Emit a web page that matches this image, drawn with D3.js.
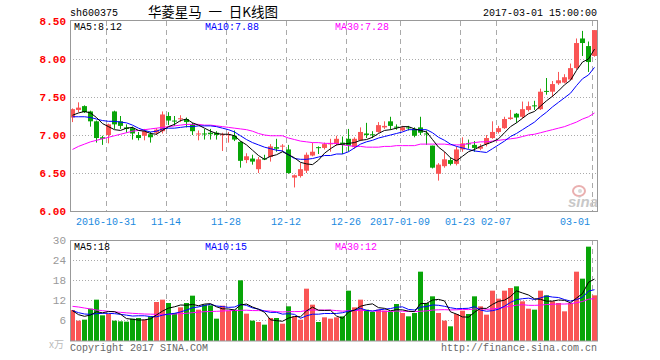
<!DOCTYPE html>
<html>
<head>
<meta charset="utf-8">
<script src="https://cdn.jsdelivr.net/npm/d3@7"></script>
<style>
  body { margin: 0; background: #fff; }
  text { font-family: "Liberation Mono", "DejaVu Sans Mono", monospace; font-size: 10px; }
</style>
</head>
<body>
<svg id="chart" width="660" height="360"></svg>
<script>
// trading days shown on the chart
const days = [
  "2016-10-21","2016-10-24","2016-10-25","2016-10-26","2016-10-27","2016-10-28","2016-10-31",
  "2016-11-01","2016-11-02","2016-11-03","2016-11-04","2016-11-07","2016-11-08","2016-11-09","2016-11-10","2016-11-11",
  "2016-11-14","2016-11-15","2016-11-16","2016-11-17","2016-11-18","2016-11-21","2016-11-22","2016-11-23","2016-11-24","2016-11-25",
  "2016-11-28","2016-11-29","2016-11-30","2016-12-01","2016-12-02","2016-12-05","2016-12-06","2016-12-07","2016-12-08","2016-12-09",
  "2016-12-12","2016-12-13","2016-12-14","2016-12-15","2016-12-16","2016-12-19","2016-12-20","2016-12-21","2016-12-22","2016-12-23",
  "2016-12-26","2016-12-27","2016-12-28","2016-12-29","2016-12-30",
  "2017-01-03","2017-01-04","2017-01-05","2017-01-06","2017-01-09","2017-01-10","2017-01-11","2017-01-12","2017-01-13",
  "2017-01-16","2017-01-17","2017-01-18","2017-01-19","2017-01-20","2017-01-23","2017-01-24","2017-01-25","2017-01-26",
  "2017-02-03","2017-02-06","2017-02-07","2017-02-08","2017-02-09","2017-02-10","2017-02-13","2017-02-14","2017-02-15",
  "2017-02-16","2017-02-17","2017-02-20","2017-02-21","2017-02-22","2017-02-23","2017-02-24","2017-02-27","2017-02-28","2017-03-01"
];

const open = [7.23,7.33,7.38,7.31,7.18,6.97,7.00,7.31,7.18,7.10, 7.09,7.00,6.99,7.01,7.03,7.05,7.25,7.19,7.21,7.21,
  7.14,7.01,7.02,7.03,7.03,7.00,7.00,6.99,6.91,6.67, 6.69,6.55,6.69,6.71,6.84,6.85,6.81,6.44,6.46,6.53,
  6.73,6.84,6.83,6.88,6.88,6.90,6.95,6.84,6.93,7.02, 7.01,7.04,7.10,7.18,7.11,7.06,7.10,7.08,7.10,7.02,
  6.86,6.49,6.59,6.67,6.62,6.81,6.89,6.87,6.82,6.88, 6.96,7.04,7.09,7.21,7.28,7.24,7.33,7.39,7.34,7.58,
  7.57,7.68,7.69,7.73,7.88,8.27,8.17,8.04];
const close = [7.34,7.36,7.30,7.18,6.96,6.95,7.14,7.14,7.12,7.08, 7.02,6.96,7.05,6.97,7.07,7.27,7.19,7.18,7.22,7.17,
  7.05,7.02,7.01,7.01,7.00,7.01,7.01,6.94,6.66,6.72, 6.65,6.68,6.68,6.85,6.82,6.86,6.50,6.47,6.55,6.74,
  6.78,6.83,6.88,6.89,6.95,6.87,6.86,6.95,7.04,7.00, 7.00,7.13,7.12,7.12,7.10,7.10,7.09,6.99,7.03,7.01,
  6.57,6.61,6.68,6.62,6.81,6.89,6.88,6.83,6.85,6.96, 7.04,7.09,7.21,7.23,7.23,7.34,7.38,7.38,7.57,7.57,
  7.67,7.72,7.76,7.88,8.21,8.21,7.96,8.38];
const high = [7.35,7.43,7.39,7.32,7.19,6.99,7.15,7.32,7.25,7.14, 7.11,7.04,7.08,7.04,7.09,7.31,7.30,7.25,7.26,7.23,
  7.16,7.06,7.08,7.08,7.05,7.03,7.04,7.06,6.92,6.76, 6.74,6.71,6.74,6.88,6.95,6.88,6.87,6.48,6.63,6.77,
  6.90,6.85,6.90,6.95,6.99,6.98,7.08,6.97,7.10,7.16, 7.05,7.17,7.18,7.24,7.14,7.12,7.12,7.10,7.24,7.06,
  6.86,6.63,6.78,6.70,6.85,6.97,6.94,6.92,6.88,7.00, 7.18,7.12,7.24,7.33,7.29,7.44,7.44,7.45,7.61,7.75,
  7.71,7.83,7.80,7.94,8.27,8.37,8.23,8.38];
const low = [7.17,7.30,7.29,7.11,6.90,6.87,6.89,7.08,7.08,7.03, 6.94,6.93,6.93,6.90,7.00,7.02,7.13,7.12,7.17,7.10,
  7.00,6.93,6.94,6.94,6.94,6.79,6.90,6.92,6.57,6.63, 6.61,6.50,6.67,6.65,6.78,6.78,6.49,6.31,6.44,6.50,
  6.72,6.75,6.81,6.78,6.86,6.75,6.78,6.82,6.92,6.96, 6.96,7.03,7.08,7.07,7.07,7.05,7.06,6.97,7.00,6.87,
  6.56,6.40,6.57,6.60,6.60,6.78,6.82,6.78,6.80,6.85, 6.95,7.02,7.08,7.20,7.16,7.22,7.31,7.33,7.33,7.53,
  7.50,7.66,7.68,7.72,7.86,8.04,7.83,8.03];

// volume, unit: 10k shares
const volume = [9.0,5.8,6.1,9.4,12.1,7.4,7.8,5.8,5.6,5.5, 6.4,6.6,6.1,7.1,11.4,12.1,11.1,8.1,9.8,11.1,
  13.3,9.1,10.6,10.4,6.4,10.3,8.8,9.1,17.9,7.9, 5.8,5.4,4.6,6.6,6.6,4.9,10.1,7.1,6.1,15.4,
  10.6,5.4,6.8,6.4,6.8,7.1,14.8,9.8,12.1,9.1, 8.4,9.1,8.8,8.4,10.8,8.1,7.1,8.1,20.5,11.1,
  13.1,8.1,5.8,4.1,7.8,8.8,7.8,13.1,10.1,7.6, 14.8,12.4,14.8,15.6,16.1,11.6,9.4,9.1,14.8,13.4,
  11.6,11.1,8.6,11.1,20.5,18.4,28.0,13.4];

// moving average lines as drawn
const ma5 = [7.26,7.29,7.31,7.29,7.23,7.15,7.11,7.07,7.06,7.09, 7.10,7.06,7.05,7.02,7.01,7.06,7.11,7.14,7.19,7.21,
  7.16,7.13,7.09,7.05,7.02,7.01,7.01,6.99,6.92,6.87, 6.80,6.73,6.68,6.72,6.74,6.78,6.74,6.70,6.64,6.62,
  6.61,6.67,6.76,6.82,6.87,6.88,6.89,6.90,6.93,6.94, 6.97,7.02,7.06,7.07,7.09,7.11,7.11,7.08,7.06,7.04,
  6.94,6.84,6.78,6.70,6.66,6.72,6.78,6.81,6.85,6.88, 6.91,6.95,7.03,7.11,7.16,7.22,7.28,7.31,7.38,7.45,
  7.51,7.58,7.66,7.72,7.85,7.96,8.00,8.13];
const ma10 = [7.24,7.24,7.24,7.23,7.21,7.19,7.18,7.18,7.17,7.16, 7.13,7.09,7.06,7.04,7.05,7.08,7.09,7.09,7.10,7.11,
  7.11,7.12,7.12,7.12,7.11,7.09,7.07,7.04,6.99,6.94, 6.90,6.87,6.84,6.82,6.80,6.79,6.74,6.69,6.68,6.68,
  6.69,6.71,6.73,6.73,6.75,6.75,6.78,6.83,6.88,6.91, 6.93,6.96,6.98,7.00,7.02,7.04,7.07,7.07,7.07,7.07,
  7.03,6.97,6.93,6.88,6.85,6.83,6.81,6.79,6.78,6.77, 6.82,6.87,6.92,6.98,7.02,7.07,7.12,7.17,7.24,7.30,
  7.37,7.43,7.49,7.55,7.65,7.74,7.79,7.89];
const ma30 = [6.81,6.85,6.88,6.91,6.93,6.95,6.97,6.99,7.01,7.03, 7.05,7.06,7.07,7.08,7.09,7.10,7.11,7.12,7.13,7.14,
  7.14,7.14,7.13,7.13,7.12,7.11,7.10,7.09,7.08,7.07, 7.05,7.02,7.00,6.99,6.99,6.99,6.96,6.94,6.92,6.91,
  6.90,6.90,6.89,6.89,6.89,6.87,6.86,6.85,6.85,6.84, 6.84,6.84,6.85,6.85,6.86,6.86,6.86,6.86,6.88,6.88,
  6.88,6.88,6.88,6.87,6.87,6.87,6.89,6.90,6.91,6.91, 6.92,6.93,6.94,6.95,6.96,6.98,7.00,7.01,7.03,7.05,
  7.07,7.09,7.11,7.14,7.17,7.21,7.24,7.29];

const vma5 = [8.8,7.6,7.1,7.5,8.48,8.16,8.56,8.50,7.74,6.42, 6.22,5.98,6.04,6.34,7.52,8.66,9.56,9.96,10.50,10.44,
  10.68,10.28,10.78,10.90,9.96,9.36,9.30,9.00,10.50,10.80, 9.90,9.22,8.32,6.06,5.80,5.62,6.56,7.06,6.96,8.72,
  9.86,8.92,8.86,8.92,7.20,6.50,8.38,8.98,10.12,10.58, 10.84,9.70,9.50,8.76,9.10,9.04,8.64,8.50,10.92,10.98,
  11.98,12.18,11.72,8.44,7.78,6.92,6.86,8.32,9.52,9.48, 10.68,11.60,11.94,13.04,14.74,14.10,13.50,12.36,12.20,11.66,
  11.66,12.00,11.90,11.16,12.58,13.94,17.32,18.28];
const vma10 = [8.8,8.2,7.8,7.7,7.9,8.0,8.0,7.9,7.7,7.45, 7.19,7.27,7.27,7.04,6.97,7.44,7.77,8.00,8.42,8.98,
  9.67,9.92,10.37,10.70,10.20,10.02,9.79,9.89,10.70,10.38, 9.63,9.26,8.66,8.28,8.30,7.76,7.89,7.69,6.51,7.26,
  7.74,7.74,7.96,7.94,7.96,8.18,8.65,8.92,9.52,8.89, 8.67,9.04,9.24,9.44,9.84,9.94,9.17,9.00,9.84,10.04,
  10.51,10.41,10.11,9.68,9.38,9.45,9.52,10.02,8.98,8.63, 8.80,9.23,10.13,11.28,12.11,12.39,12.55,12.15,12.62,13.20,
  12.88,12.75,12.13,11.68,12.12,12.80,14.66,15.09];
const vma30 = [10.1,9.9,9.6,9.3,9.0,8.8,8.6,8.45,8.3,8.15, 8.0,7.9,7.8,7.75,7.7,7.7,7.7,7.8,7.9,8.0,
  8.2,8.35,8.5,8.55,8.6,8.7,8.8,8.85,8.9,8.94, 8.83,8.82,8.77,8.67,8.49,8.41,8.48,8.53,8.54,8.87,
  9.01,8.97,9.00,8.97,8.82,8.65,8.78,8.83,8.91,8.84, 8.68,8.68,8.62,8.55,8.70,8.63,8.57,8.54,8.62,8.73,
  8.97,9.06,9.10,9.02,9.06,9.19,9.11,9.31,9.45,9.19, 9.33,9.56,9.83,10.13,10.44,10.59,10.41,10.39,10.48,10.62,
  10.73,10.80,10.79,10.88,11.20,11.55,12.24,12.42];

const priceTicks = [6, 6.5, 7, 7.5, 8, 8.5];
const volTicks = [6, 12, 18, 24, 30];
const tickDates = ["2016-10-31","2016-11-14","2016-11-28","2016-12-12","2016-12-26","2017-01-09","2017-01-23","2017-02-07","2017-03-01"];
const tickLabels = ["2016-10-31","11-14","11-28","12-12","12-26","2017-01-09","01-23","02-07","03-01"];

const RED = "#fa5555", GREEN = "#08a508";

const svg = d3.select("#chart");
const left = 70, right = 598;

const x = d3.scaleBand().domain(days).range([left, right]);
const yP = d3.scaleLinear().domain([6, 8.5]).range([211, 21]);
const yV = d3.scaleLinear().domain([0, 30]).range([340, 240]);

// header
svg.append("text").attr("x", 70).attr("y", 16).attr("fill", "#000").text("sh600375");
svg.append("text").attr("x", 213).attr("y", 17).attr("text-anchor", "middle")
  .style("font-family", "'Noto Sans CJK SC', sans-serif").style("font-size", "13.5px")
  .style("white-space", "pre")
  .text("华菱星马\u2002一\u2002日K线图");
svg.append("text").attr("x", 597).attr("y", 16).attr("text-anchor", "end").text("2017-03-01 15:00:00");

// ---------- price panel ----------
const price = svg.append("g");

price.selectAll(".hgrid").data(priceTicks.slice(1, -1)).enter()
  .append("line")
  .attr("x1", left).attr("x2", right)
  .attr("y1", d => Math.round(yP(d)) + 0.5).attr("y2", d => Math.round(yP(d)) + 0.5)
  .attr("stroke", "#aaa").attr("stroke-dasharray", "1,2");

price.selectAll(".vgrid").data(tickDates).enter()
  .append("line")
  .attr("x1", d => x(d) + 0.5).attr("x2", d => x(d) + 0.5)
  .attr("y1", 21).attr("y2", 211)
  .attr("stroke", "#aaa").attr("stroke-dasharray", "5,4");

// sina mark
price.append("ellipse").attr("cx", 579).attr("cy", 191).attr("rx", 6).attr("ry", 5)
  .attr("fill", "none").attr("stroke", "#eab0b0").attr("stroke-width", 2);
price.append("circle").attr("cx", 580).attr("cy", 191).attr("r", 2).attr("fill", "#d9d9d9");
price.append("text").attr("x", 598).attr("y", 207).attr("text-anchor", "end")
  .style("font-family", "'Liberation Sans', sans-serif").style("font-size", "15px")
  .style("font-style", "italic").style("font-weight", "bold")
  .attr("fill", "#c8c8c8").text("sina");

const yAxis = d3.axisLeft(yP).tickValues(priceTicks).tickFormat(d3.format(".2f")).tickSize(0).tickPadding(4);
price.append("g").attr("transform", `translate(${left},0)`)
  .call(yAxis)
  .call(g => g.select(".domain").remove())
  .call(g => g.selectAll("text").attr("fill", "#f00").style("font-size", "11px").style("font-weight", "bold"));

// candles
const candles = price.selectAll(".candle").data(days).enter().append("g");
candles.append("rect")
  .attr("x", d => x(d) + 2).attr("width", 1)
  .attr("y", (d, i) => yP(high[i]))
  .attr("height", (d, i) => Math.max(1, yP(low[i]) - yP(high[i])))
  .attr("fill", (d, i) => close[i] >= open[i] ? RED : GREEN);
candles.append("rect")
  .attr("x", d => x(d)).attr("width", x.bandwidth() - 1)
  .attr("y", (d, i) => yP(Math.max(open[i], close[i])))
  .attr("height", (d, i) => Math.max(1, Math.abs(yP(open[i]) - yP(close[i]))))
  .attr("fill", (d, i) => close[i] >= open[i] ? RED : GREEN);

const priceLine = d3.line().x((d, i) => x(days[i]) + 2.5).y(d => yP(d));
[[ma30, "#f0f"], [ma10, "#00f"], [ma5, "#000"]].forEach(([s, c]) => {
  price.append("path").datum(s).attr("d", priceLine)
    .attr("fill", "none").attr("stroke", c).attr("stroke-width", 1);
});

price.append("rect").attr("x", left + 0.5).attr("y", 20.5).attr("width", right - left - 1).attr("height", 191)
  .attr("fill", "none").attr("stroke", "#999");

price.append("text").attr("x", 74).attr("y", 30).attr("fill", "#000").text("MA5:8.12");
price.append("text").attr("x", 205).attr("y", 30).attr("fill", "#00f").text("MA10:7.88");
price.append("text").attr("x", 335).attr("y", 30).attr("fill", "#f0f").text("MA30:7.28");

// date labels
price.selectAll(".dlabel").data(tickDates).enter()
  .append("text")
  .attr("x", (d, i) => i === tickDates.length - 1 ? x(d) - 2 : x(d))
  .attr("y", 225)
  .attr("text-anchor", (d, i) => i === tickDates.length - 1 ? "end" : "middle")
  .attr("fill", "#1a8ae0")
  .text((d, i) => tickLabels[i]);

// ---------- volume panel ----------
const vol = svg.append("g");

vol.selectAll(".hgrid").data(volTicks.slice(0, -1)).enter()
  .append("line")
  .attr("x1", left).attr("x2", right)
  .attr("y1", d => Math.round(yV(d)) + 0.5).attr("y2", d => Math.round(yV(d)) + 0.5)
  .attr("stroke", "#aaa").attr("stroke-dasharray", "1,2");

vol.selectAll(".vgrid").data(tickDates).enter()
  .append("line")
  .attr("x1", d => x(d) + 0.5).attr("x2", d => x(d) + 0.5)
  .attr("y1", 240).attr("y2", 341)
  .attr("stroke", "#aaa").attr("stroke-dasharray", "5,4");

vol.selectAll(".bar").data(days).enter()
  .append("rect")
  .attr("x", d => x(d)).attr("width", x.bandwidth() - 1)
  .attr("y", (d, i) => yV(volume[i]))
  .attr("height", (d, i) => yV(0) + 1 - yV(volume[i]))
  .attr("fill", (d, i) => close[i] >= open[i] ? RED : GREEN);

const volLine = d3.line().x((d, i) => x(days[i]) + 2.5).y(d => yV(d));
[[vma30, "#f0f"], [vma10, "#00f"], [vma5, "#000"]].forEach(([s, c]) => {
  vol.append("path").datum(s).attr("d", volLine)
    .attr("fill", "none").attr("stroke", c).attr("stroke-width", 1);
});

const vAxis = d3.axisLeft(yV).tickValues(volTicks).tickSize(0).tickPadding(4);
vol.append("g").attr("transform", `translate(${left},0)`)
  .call(vAxis)
  .call(g => g.select(".domain").remove())
  .call(g => g.selectAll("text").attr("fill", "#999").style("font-size", "11px"));

vol.append("rect").attr("x", left + 0.5).attr("y", 240.5).attr("width", right - left - 1).attr("height", 100.5)
  .attr("fill", "none").attr("stroke", "#999");

vol.append("text").attr("x", 74).attr("y", 250).attr("fill", "#000").text("MA5:18");
vol.append("text").attr("x", 205).attr("y", 250).attr("fill", "#00f").text("MA10:15");
vol.append("text").attr("x", 335).attr("y", 250).attr("fill", "#f0f").text("MA30:12");

vol.append("text").attr("x", 64).attr("y", 348).attr("text-anchor", "end")
  .attr("fill", "#bbb").style("font-family", "'Noto Sans CJK SC', sans-serif").text("x万");

svg.append("text").attr("x", 70).attr("y", 351).attr("fill", "#666").text("Copyright 2017 SINA.COM");
svg.append("text").attr("x", 597).attr("y", 351).attr("text-anchor", "end").attr("fill", "#666").text("http://finance.sina.com.cn");
</script>
</body>
</html>
